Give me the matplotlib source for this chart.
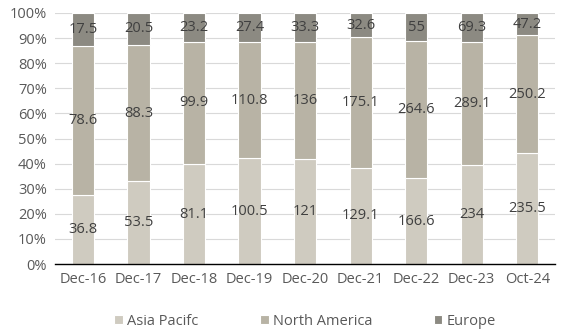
import numpy as np
import matplotlib.pyplot as plt

# Data
categories = ["Dec-16", "Dec-17", "Dec-18", "Dec-19", "Dec-20", "Dec-21", "Dec-22", "Dec-23", "Oct-24"]
asia_pacific = [36.8, 53.5, 81.1, 100.5, 121, 129.1, 166.6, 234, 235.5]
north_america = [78.6, 88.3, 99.9, 110.8, 136, 175.1, 264.6, 289.1, 250.2]
europe = [17.5, 20.5, 23.2, 27.4, 33.3, 32.6, 55, 69.3, 47.2]

series = [("Asia Pacifc", asia_pacific, "#cfcbc0"),
          ("North America", north_america, "#b8b3a5"),
          ("Europe", europe, "#8c8a82")]

plt.rcParams["font.family"] = ["Open Sans", "DejaVu Sans"]

fig = plt.figure(figsize=(5.8, 3.33), dpi=100)
ax = fig.add_axes([0.095, 0.207, 0.862, 0.754])

x = np.arange(len(categories))
totals = np.array(asia_pacific) + np.array(north_america) + np.array(europe)
bottom = np.zeros(len(categories))
for name, vals, color in series:
    share = np.array(vals) / totals * 100
    ax.bar(x, share, bottom=bottom, width=0.4, color=color, label=name,
           edgecolor="white", linewidth=0.8, zorder=2)
    for xi, b, s, v in zip(x, bottom, share, vals):
        ax.text(xi, b + s / 2, f"{v:g}", ha="center", va="center",
                fontsize=10.5, color="#404040", zorder=3)
    bottom += share

ax.set_ylim(0, 100)
ax.set_xlim(-0.5, len(categories) - 0.5)
ax.set_yticks(range(0, 101, 10))
ax.set_yticklabels([f"{t}%" for t in range(0, 101, 10)])
ax.set_xticks(x)
ax.set_xticklabels(categories)
ax.tick_params(axis="both", length=0, labelsize=10.5, colors="#595959", pad=6)
ax.yaxis.grid(True, color="#d9d9d9", linewidth=0.8, zorder=0)
ax.set_axisbelow(True)
for side in ["top", "right", "left"]:
    ax.spines[side].set_visible(False)
ax.spines["bottom"].set_color("#000000")
ax.spines["bottom"].set_linewidth(1.0)

ax.legend(loc="upper center", bbox_to_anchor=(0.5, -0.145), ncol=3, frameon=False,
          fontsize=10.5, labelcolor="#595959", handlelength=0.6, handleheight=0.6,
          handletextpad=0.3, columnspacing=4.2)

plt.savefig("out.png", dpi=100)
